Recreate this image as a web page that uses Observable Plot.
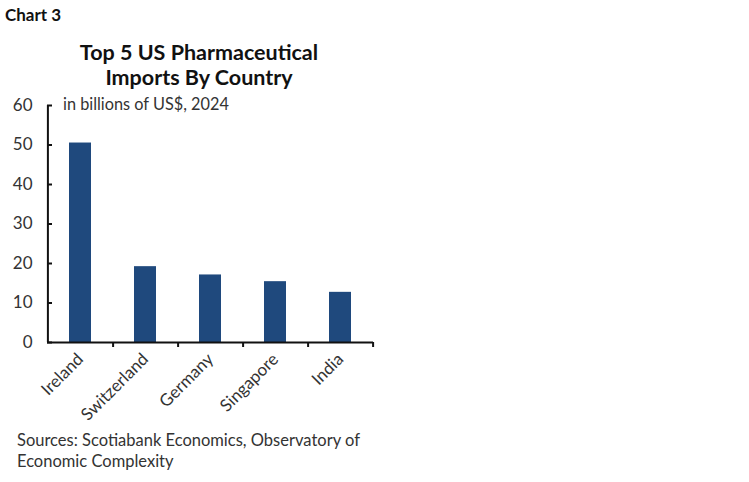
<!DOCTYPE html>
<html>
<head>
<meta charset="utf-8">
<script src="https://cdn.jsdelivr.net/npm/d3@7"></script>
<script src="https://cdn.jsdelivr.net/npm/@observablehq/plot@0.6"></script>
<style>
  html, body { margin: 0; padding: 0; background: #fff; }
  body { width: 749px; height: 482px; position: relative; overflow: hidden; font-family: Lato, "Open Sans", sans-serif; }
  .abs { position: absolute; white-space: nowrap; }
  #label { left: 5px; top: 4px; font-size: 17px; font-weight: 700; color: #111; }
  #title { left: 0; width: 398px; top: 40px; text-align: center; font-size: 21.5px; font-weight: 700; color: #111; line-height: 25px; }
  #subtitle { left: 63px; top: 94px; font-size: 16.3px; color: #333; }
  #caption { left: 17px; top: 430px; font-size: 16.5px; color: #333; line-height: 21px; }
  #chart { left: 0; top: 90px; }
</style>
</head>
<body>
<div id="label" class="abs">Chart 3</div>
<div id="title" class="abs">Top 5 US Pharmaceutical<br>Imports By Country</div>
<div id="subtitle" class="abs">in billions of US$, 2024</div>
<div id="chart" class="abs"></div>
<div id="caption" class="abs">Sources: Scotiabank Economics, Observatory of<br>Economic Complexity</div>
<script>
const countries = ["Ireland", "Switzerland", "Germany", "Singapore", "India"];
const values = [50.5, 19.2, 17.1, 15.4, 12.7];
const yTicks = [0, 10, 20, 30, 40, 50, 60];

const data = countries.map((c, i) => ({country: c, value: values[i]}));

const W = 400, H = 340, mL = 47, mR = 27, mT = 15, mB = 88;
const step = (W - mL - mR) / countries.length;

const chart = Plot.plot({
  width: W, height: H,
  marginLeft: mL, marginRight: mR, marginTop: mT, marginBottom: mB,
  style: {fontFamily: "Lato, 'Open Sans', sans-serif", fontSize: "15px", color: "#333", background: "transparent", overflow: "visible"},
  x: {domain: countries, paddingInner: 0.66, paddingOuter: 0.33, label: null},
  y: {domain: [0, 60], label: null},
  marks: [
    Plot.barY(data, {x: "country", y: "value", fill: "#1f497d"}),
    Plot.ruleY([0], {stroke: "#111", strokeWidth: 2}),
    Plot.ruleX([countries[0]], {x: d => d, y1: 0, y2: 60, dx: -step / 2, stroke: "#111", strokeWidth: 2}),
    Plot.axisY({ticks: yTicks, tickSize: 0, tickPadding: 15, fontSize: 17, label: null}),
    Plot.axisY({ticks: yTicks, tickSize: 5, dx: 5, tickFormat: () => "", strokeWidth: 2, stroke: "#111", label: null}),
    Plot.axisX({tickSize: 5, dx: step / 2, tickFormat: () => "", strokeWidth: 2, stroke: "#111", label: null}),
    Plot.axisX({tickSize: 0, tickPadding: 14, dx: 0, tickRotate: -45, fontSize: 17, label: null})
  ]
});
document.getElementById("chart").appendChild(chart);
</script>
</body>
</html>
